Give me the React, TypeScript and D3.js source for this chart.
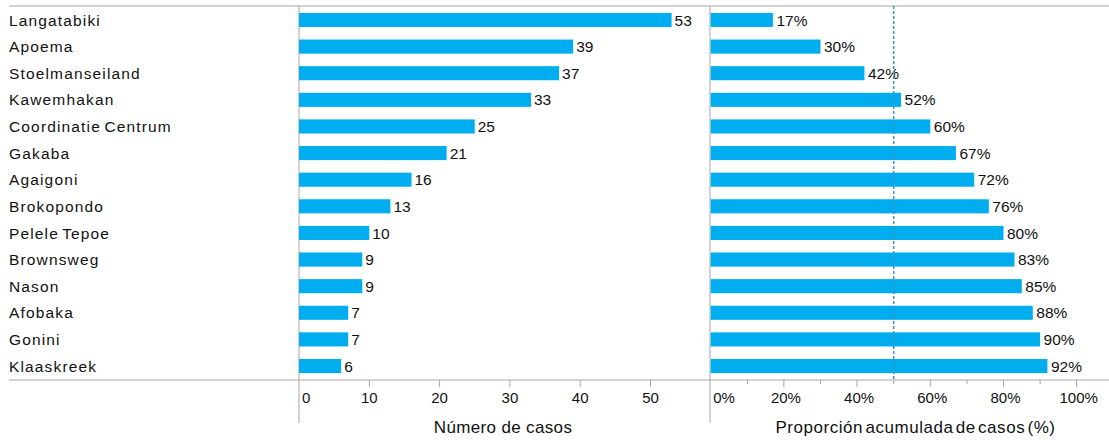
import React from "react";
import * as d3 from "d3";

const categories = [
  "Langatabiki",
  "Apoema",
  "Stoelmanseiland",
  "Kawemhakan",
  "Coordinatie Centrum",
  "Gakaba",
  "Agaigoni",
  "Brokopondo",
  "Pelele Tepoe",
  "Brownsweg",
  "Nason",
  "Afobaka",
  "Gonini",
  "Klaaskreek",
];
const cases = [53, 39, 37, 33, 25, 21, 16, 13, 10, 9, 9, 7, 7, 6];
const cumulativePct = [17, 30, 42, 52, 60, 67, 72, 76, 80, 83, 85, 88, 90, 92];
const caseTicks = [0, 10, 20, 30, 40, 50];
const pctMajorTicks = [0, 20, 40, 60, 80, 100];
const pctMinorTicks = [10, 30, 50, 70, 90];
const referencePct = 50;

const W = 1109;
const H = 442;
const FONT = "'Liberation Sans', Arial, Helvetica, sans-serif";
const BAR = "#00AEEF";
const GRID = "#a6a6a6";
const TXT = "#111";

export default function App() {
  const top = 6;
  const axisY = 380;
  const lineLeft = 9;
  const leftX0 = 299;
  const rightX0 = 710.7;

  const y = d3.scaleBand<string>().domain(categories).range([top, axisY]).paddingInner(0.47).paddingOuter(0.26);
  const xL = d3.scaleLinear().domain([0, 50]).range([leftX0, 650.5]);
  const xR = d3.scaleLinear().domain([0, 100]).range([rightX0, 1076.7]);
  const bh = y.bandwidth();

  return (
    <svg width={W} height={H} style={{ position: "absolute", left: 0, top: 0, background: "#fff" }} fontFamily={FONT}>
      {/* frame lines */}
      <line x1={lineLeft} x2={W} y1={top} y2={top} stroke={GRID} strokeWidth={1} />
      <line x1={lineLeft} x2={W} y1={axisY} y2={axisY} stroke={GRID} strokeWidth={1} />
      <line x1={leftX0} x2={leftX0} y1={top} y2={423} stroke={GRID} strokeWidth={1} />
      <line x1={710} x2={710} y1={top} y2={423} stroke={GRID} strokeWidth={1} />

      {/* category labels */}
      {categories.map((c) => (
        <text key={c} x={9} y={(y(c) ?? 0) + bh / 2} dy="0.36em" fontSize={15.5} letterSpacing={1.15} wordSpacing={-2} fill={TXT}>
          {c}
        </text>
      ))}

      {/* left bars */}
      {categories.map((c, i) => (
        <g key={"l" + c}>
          <rect x={xL(0)} y={y(c)} width={xL(cases[i]) - xL(0)} height={bh} fill={BAR} />
          <text x={xL(cases[i]) + 3} y={(y(c) ?? 0) + bh / 2} dy="0.36em" fontSize={15.5} fill={TXT}>
            {cases[i]}
          </text>
        </g>
      ))}

      {/* right bars */}
      {categories.map((c, i) => (
        <g key={"r" + c}>
          <rect x={xR(0)} y={y(c)} width={xR(cumulativePct[i]) - xR(0)} height={bh} fill={BAR} />
          <text x={xR(cumulativePct[i]) + 3.5} y={(y(c) ?? 0) + bh / 2} dy="0.36em" fontSize={15.5} fill={TXT}>
            {cumulativePct[i]}%
          </text>
        </g>
      ))}

      {/* reference dashed line */}
      <line x1={xR(referencePct)} x2={xR(referencePct)} y1={top} y2={axisY} stroke="#3f8fbf" strokeWidth={1.5} strokeDasharray="3,2" />

      {/* left axis ticks */}
      {caseTicks.map((t) => (
        <g key={"ct" + t}>
          {t !== 0 && <line x1={xL(t)} x2={xL(t)} y1={axisY} y2={axisY + 7} stroke={GRID} />}
          <text x={t === 0 ? xL(t) + 3 : xL(t)} y={403} textAnchor={t === 0 ? "start" : "middle"} fontSize={15} fill={TXT}>
            {t}
          </text>
        </g>
      ))}

      {/* right axis ticks */}
      {pctMinorTicks.map((t) => (
        <line key={"pm" + t} x1={xR(t)} x2={xR(t)} y1={axisY} y2={axisY + 4} stroke={GRID} />
      ))}
      {pctMajorTicks.map((t) => (
        <g key={"pt" + t}>
          {t !== 0 && <line x1={xR(t)} x2={xR(t)} y1={axisY} y2={axisY + 7} stroke={GRID} />}
          <text x={t === 0 ? xR(t) + 2.5 : xR(t) + 2} y={403} textAnchor={t === 0 ? "start" : "middle"} fontSize={15} fill={TXT}>
            {t}%
          </text>
        </g>
      ))}

      {/* axis titles */}
      <text x={503} y={433} textAnchor="middle" fontSize={17} letterSpacing={0.35} fill={TXT}>
        Número de casos
      </text>
      <text x={915.5} y={433} textAnchor="middle" fontSize={17} letterSpacing={0.55} wordSpacing={-3} fill={TXT}>
        Proporción acumulada de casos (%)
      </text>
    </svg>
  );
}
